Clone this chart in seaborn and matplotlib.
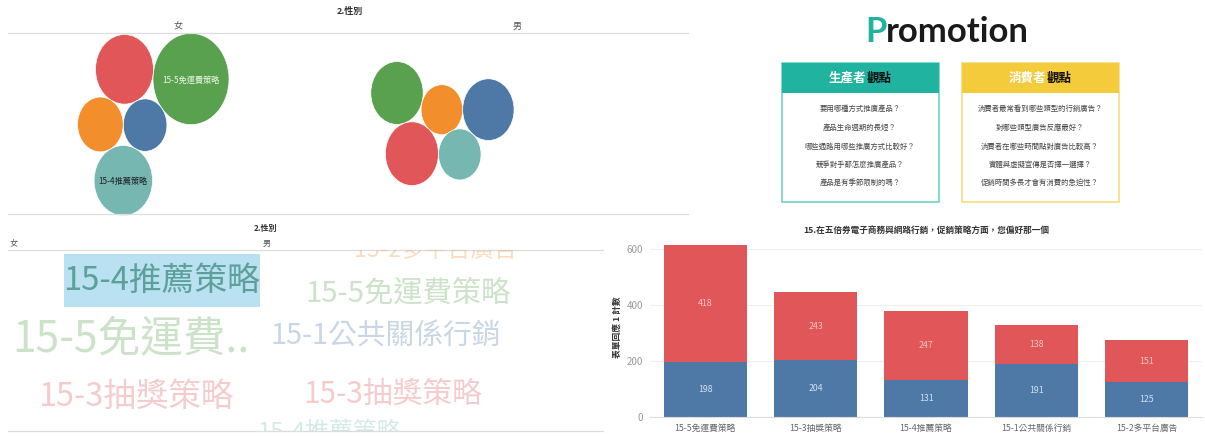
import matplotlib
matplotlib.use("Agg")
import matplotlib.pyplot as plt
from matplotlib.patches import Ellipse, Rectangle
import seaborn as sns
import numpy as np
import pandas as pd

# ---------------- data ----------------
strategies = ['15-5免運費策略', '15-3抽獎策略', '15-4推薦策略', '15-1公共關係行銷', '15-2多平台廣告']
female = [418, 243, 247, 138, 151]
male = [198, 204, 131, 191, 125]
genders = ['女', '男']
strategy_colors = ['#59A14F', '#E15759', '#76B7B2', '#4E79A7', '#F28E2B']
female_color = '#E15759'
male_color = '#4E79A7'
panel_title = '2.性別'
bar_title = '15.在五倍券電子商務與網路行銷，促銷策略方面，您偏好那一個'
y_label = '表單回應 1 計數'
y_ticks = [0, 200, 400, 600]
promo_word = 'Promotion'
producer_head = ['生產者', '觀點']
consumer_head = ['消費者', '觀點']
producer_questions = ['要用哪種方式推廣產品？', '產品生命週期的長短？', '哪些通路用哪些推廣方式比較好？',
                      '競爭對手都怎麼推廣產品？', '產品是有季節限制的嗎？']
consumer_questions = ['消費者最常看到哪些類型的行銷廣告？', '對哪些類型廣告反應最好？',
                      '消費者在哪些時間點對廣告比較高？', '實體與虛擬宣傳是否擇一選擇？',
                      '促銷時間多長才會有消費的急迫性？']

sns.set_theme(style='white')
plt.rcParams['font.family'] = ['Noto Sans CJK TC', 'DejaVu Sans']

W, H = 1205, 436
fig = plt.figure(figsize=(W / 100, H / 100), dpi=100)
bg = fig.add_axes([0, 0, 1, 1])
bg.set_xlim(0, W)
bg.set_ylim(H, 0)
bg.axis('off')

LINE = '#dcdcdc'

# ---------------- packed bubbles ----------------
bg.plot([8, 688], [33, 33], color=LINE, lw=0.9)
bg.plot([8, 688], [214, 214], color=LINE, lw=0.9)
bg.text(350, 11, panel_title, ha='center', va='center', fontsize=6.5, fontweight='bold', color='#333333')
bg.text(178, 26, genders[0], ha='center', va='center', fontsize=6.5, color='#555555')
bg.text(517, 26, genders[1], ha='center', va='center', fontsize=6.5, color='#555555')

K = 1.86      # bubble radius scale (px per sqrt(count))
STRETCH = 1.2  # vertical stretch of the picture


def tangent(a, b, r, key):
    (ax_, aw, ra), (bx, bw, rb) = a, b
    da, db = ra + r, rb + r
    d = np.hypot(bx - ax_, bw - aw)
    ex, ew = (bx - ax_) / d, (bw - aw) / d
    x = (da ** 2 - db ** 2 + d ** 2) / (2 * d)
    h = np.sqrt(max(da ** 2 - x ** 2, 0))
    cands = [(ax_ + x * ex + s * h * -ew, aw + x * ew + s * h * ex) for s in (1, -1)]
    return key(cands) + (r,)


def from_angle(a, r, deg):
    ax_, aw, ra = a
    t = np.deg2rad(deg)
    return (ax_ + (ra + r) * np.cos(t), aw + (ra + r) * np.sin(t), r)


below = lambda c: max(c, key=lambda p: p[1])
left = lambda c: min(c, key=lambda p: p[0])

# female pack
rf = [K * np.sqrt(v) for v in female]
fem = {}
fem[0] = (191, 79 / STRETCH, rf[0])
fem[1] = from_angle(fem[0], rf[1], 186.9)
fem[3] = tangent(fem[0], fem[1], rf[3], below)
fem[4] = tangent(fem[1], fem[3], rf[4], left)
fem[2] = tangent(fem[4], fem[3], rf[2], below)
# male pack
rm = [K * np.sqrt(v) for v in male]
mal = {}
mal[0] = (397, 93 / STRETCH, rm[0])
mal[4] = from_angle(mal[0], rm[4], 17.2)
mal[1] = tangent(mal[0], mal[4], rm[1], below)
mal[3] = from_angle(mal[4], rm[3], 0)
mal[2] = tangent(mal[1], mal[3], rm[2], below)

for pack in (fem, mal):
    for i, (u, w, r) in pack.items():
        bg.add_patch(Ellipse((u, w * STRETCH), 2 * r, 2 * r * STRETCH,
                             facecolor=strategy_colors[i], edgecolor='white', lw=0.5))

u, w, r = fem[0]
bg.text(u, w * STRETCH + 1, strategies[0], ha='center', va='center', fontsize=5.9, color='#eef5ea')
u, w, r = fem[2]
bg.text(u, w * STRETCH + 1, strategies[2], ha='center', va='center', fontsize=5.9, color='#1f1f1f')

# ---------------- word cloud ----------------
bg.plot([8, 603], [250, 250], color=LINE, lw=0.9)
bg.plot([8, 603], [431, 431], color=LINE, lw=0.9)
bg.text(265, 228.5, panel_title, ha='center', va='center', fontsize=5.8, fontweight='bold', color='#333333')
bg.text(14, 243.5, genders[0], ha='center', va='center', fontsize=5.8, color='#555555')
bg.text(267, 243.5, genders[1], ha='center', va='center', fontsize=5.8, color='#555555')

wc = fig.add_axes([8 / W, (H - 431) / H, 595 / W, 181 / H])
wc.set_xlim(8, 603)
wc.set_ylim(431, 250)
wc.axis('off')

# layout: (gender, strategy index, centre x, centre y, truncated)
word_layout = [
    (0, 2, 162, 281, False),
    (0, 0, 131, 339, True),
    (0, 1, 136, 397, False),
    (1, 4, 435, 250, False),
    (1, 0, 408, 294, False),
    (1, 3, 386, 337, False),
    (1, 1, 393, 394, False),
    (1, 2, 330, 432, False),
]
counts = [female, male]
highlight = None
for g, i, x, y, trunc in word_layout:
    txt = strategies[i][:7] + '..' if trunc else strategies[i]
    fs = 1.5 * np.sqrt(counts[g][i])
    if g == 0 and i == 2:
        highlight = wc.text(x, y, txt, ha='center', va='center', fontsize=fs, color='#5d9f99',
                            clip_on=True, zorder=3)
    else:
        wc.text(x, y, txt, ha='center', va='center', fontsize=fs, color=strategy_colors[i],
                alpha=0.3, clip_on=True)

# ---------------- Promotion card ----------------
PFS = 25
t0 = bg.text(0, 32, promo_word[0], ha='left', va='center', fontsize=PFS, fontweight='bold',
             color='#1fb3a0', family='Lato')
t1 = bg.text(0, 32, promo_word[1:], ha='left', va='center', fontsize=PFS, fontweight='bold',
             color='#1a1a1a', family='Lato')
fig.canvas.draw()
w0 = t0.get_window_extent().width
w1 = t1.get_window_extent().width
start = 947 - (w0 + w1) / 2
t0.set_x(start)
t1.set_x(start + w0)

# highlight box behind the selected word, sized from the text's extent
hb = highlight.get_window_extent()
x0d, y0d = wc.transData.inverted().transform((hb.x0, hb.y0))
x1d, y1d = wc.transData.inverted().transform((hb.x1, hb.y1))
wc.add_patch(Rectangle((min(x0d, x1d), 254), abs(x1d - x0d), 53, fc='#b9e1f1', ec='none', zorder=2))

qy = [109, 128, 147, 165, 183]
for cx, head, qs, fill, edge in [(860, producer_head, producer_questions, '#1fb3a0', '#6fd3c6'),
                                 (1040, consumer_head, consumer_questions, '#f4cb3b', '#f6dc80')]:
    bg.add_patch(Rectangle((cx - 78.5, 63), 157, 139, fc='white', ec=edge, lw=1.2))
    bg.add_patch(Rectangle((cx - 78.5, 63), 157, 30, fc=fill, ec='none'))
    cw = 12.4
    split = cx - (len(head[0]) + len(head[1])) * cw / 2 + len(head[0]) * cw
    bg.text(split, 78, head[0], ha='right', va='center', fontsize=9, fontweight='bold', color='white')
    bg.text(split, 78, head[1], ha='left', va='center', fontsize=9, fontweight='bold', color='#111111')
    for y, q in zip(qy, qs):
        bg.text(cx, y, q, ha='center', va='center', fontsize=5.3, color='#444444')

# ---------------- stacked bar chart ----------------
y0, scale, ymax = 417, 0.2792, 640
top = y0 - ymax * scale
ax = fig.add_axes([650 / W, (H - y0) / H, 552 / W, (y0 - top) / H])
df = pd.DataFrame({'strategy': strategies, 'female': female, 'male': male})
df['total'] = df['female'] + df['male']
sns.barplot(data=df, x='strategy', y='total', color=female_color, saturation=1, width=0.755,
            errorbar=None, ax=ax, edgecolor='none')
sns.barplot(data=df, x='strategy', y='male', color=male_color, saturation=1, width=0.755,
            errorbar=None, ax=ax, edgecolor='none')
ax.set_ylim(0, ymax)
ax.set_xlim(-0.5, len(strategies) - 0.5)
ax.set_yticks(y_ticks)
ax.set_yticklabels([str(t) for t in y_ticks])
ax.yaxis.grid(True, color='#efefef', lw=0.8)
ax.set_axisbelow(True)
for s in ['top', 'right', 'left']:
    ax.spines[s].set_visible(False)
ax.spines['bottom'].set_color('#dddddd')
ax.spines['bottom'].set_linewidth(0.8)
ax.tick_params(axis='y', length=0, pad=5, labelsize=7, labelcolor='#999999')
ax.tick_params(axis='x', length=0, pad=5, labelsize=6.3, labelcolor='#666666')
ax.set_xlabel('')
ax.set_ylabel(y_label, fontsize=6.3, fontweight='bold', color='#333333', labelpad=3)
for i, row in df.iterrows():
    ax.text(i, row['male'] + row['female'] / 2, str(row['female']), ha='center', va='center',
            fontsize=6.3, color='#f7c6c6')
    ax.text(i, row['male'] / 2, str(row['male']), ha='center', va='center',
            fontsize=6.3, color='#d3e0f0')
bg.text(926, 230, bar_title, ha='center', va='center', fontsize=6.2, fontweight='bold', color='#333333')

fig.savefig('out.png', dpi=100)
